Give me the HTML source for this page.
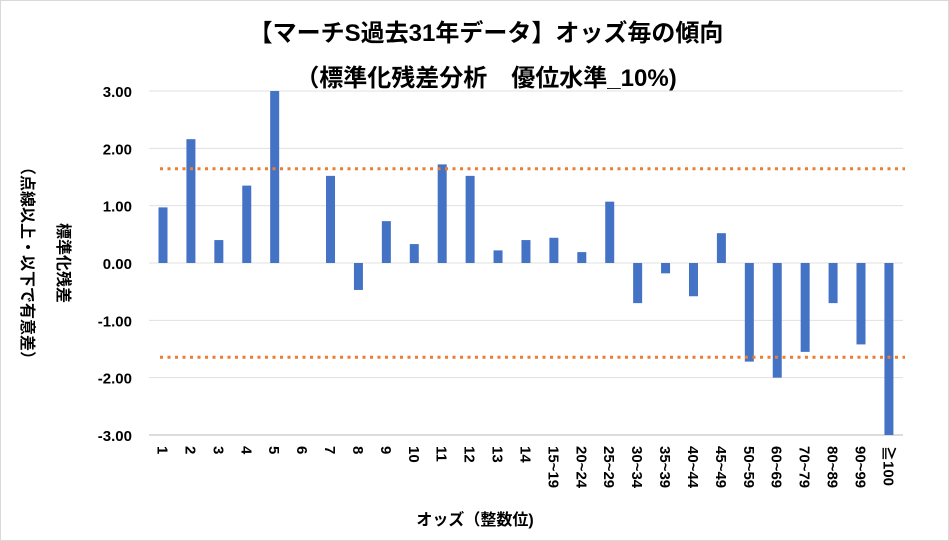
<!DOCTYPE html>
<html><head><meta charset="utf-8"><style>
body{margin:0;background:#fff}
svg{display:block;font-family:"Liberation Sans","Noto Sans CJK JP",sans-serif}
</style></head><body>
<svg id="s" width="949" height="541" xmlns="http://www.w3.org/2000/svg">
<rect x="0.5" y="0.5" width="948" height="540" fill="#fff" stroke="#d9d9d9"/>
<text x="486" y="41" text-anchor="middle" font-size="24" font-weight="bold" fill="#000">【マーチS過去31年データ】オッズ毎の傾向</text>
<text x="486" y="86" text-anchor="middle" font-size="24" font-weight="bold" fill="#000">（標準化残差分析　優位水準_10%)</text>
<g id="g"></g>
<text x="475" y="525" text-anchor="middle" font-size="16" font-weight="bold">オッズ（整数位)</text>
<text transform="translate(58,263) rotate(90)" text-anchor="middle" font-size="16" font-weight="bold">標準化残差</text>
<text transform="translate(22,263) rotate(90)" text-anchor="middle" font-size="16" font-weight="bold">（点線以上・以下で有意差）</text>
</svg>
<script>
var g=document.getElementById('g'),h='';
var z=263,u=57.33;
for(var i=-3;i<=3;i++){var y=z-i*u;h+='<line x1="149" x2="903" y1="'+y+'" y2="'+y+'" stroke="'+(i==-3?'#d0d0d0':'#e0e0e0')+'" stroke-width="'+(i==-3?1.5:1)+'"/>';
h+='<text x="132" y="'+(y+6)+'" text-anchor="end" font-size="15" font-weight="bold">'+(i<0?'-':'')+Math.abs(i)+'.00</text>';}
var L=['1','2','3','4','5','6','7','8','9','10','11','12','13','14','15~19','20~24','25~29','30~34','35~39','40~44','45~49','50~59','60~69','70~79','80~89','90~99','≧100'];
var V=[0.97,2.16,0.40,1.35,3.0,0,1.52,-0.47,0.73,0.33,1.72,1.52,0.22,0.40,0.44,0.19,1.07,-0.70,-0.18,-0.58,0.52,-1.72,-2.0,-1.55,-0.70,-1.42,-3.0];
for(var k=0;k<27;k++){var x=163+k*27.92,v=V[k],y1=v>=0?z-v*u:z,hh=Math.abs(v)*u;
if(hh>0)h+='<rect x="'+(x-4.5)+'" y="'+y1+'" width="9" height="'+hh+'" fill="#4472c4"/>';
h+='<text transform="translate('+(x-5.5)+',446) rotate(90)" font-size="15" font-weight="bold">'+L[k]+'</text>';}
h+='<line x1="160" x2="905" y1="168.7" y2="168.7" stroke="#ed7d31" stroke-width="3" stroke-dasharray="3 4.5"/>';
h+='<line x1="160" x2="905" y1="357.3" y2="357.3" stroke="#ed7d31" stroke-width="3" stroke-dasharray="3 4.5"/>';
g.innerHTML=h;
</script>
</body></html>
